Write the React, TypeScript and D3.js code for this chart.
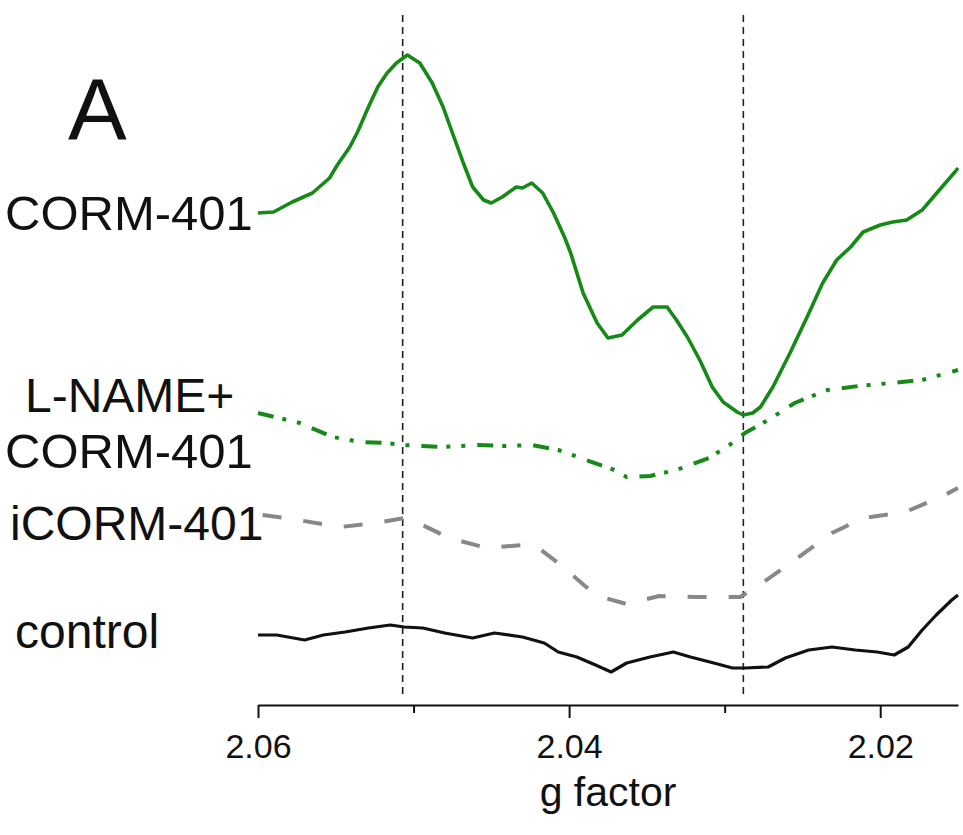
import React, { useEffect, useRef } from "react";
import * as d3 from "d3";

// g factor positions (x) and signal in arbitrary units (y)
const gCorm = [2.06, 2.059, 2.0584, 2.0578, 2.0565, 2.0554, 2.0549, 2.0541, 2.0536, 2.0529, 2.0523, 2.0517, 2.0511, 2.0504, 2.0496, 2.0488, 2.0481, 2.0475, 2.0468, 2.0462, 2.0455, 2.045, 2.0443, 2.0434, 2.043, 2.0424, 2.0417, 2.041, 2.0403, 2.0399, 2.0391, 2.0382, 2.0375, 2.0366, 2.0356, 2.0346, 2.0337, 2.0331, 2.0324, 2.0316, 2.0308, 2.0301, 2.0292, 2.0288, 2.0282, 2.0277, 2.0269, 2.0258, 2.0247, 2.0237, 2.0228, 2.0219, 2.0211, 2.02, 2.0192, 2.0183, 2.0173, 2.0162, 2.0152, 2.015];
const corm = [49.2, 49.3, 49.8, 50.3, 51.2, 52.7, 54.0, 55.8, 57.3, 59.8, 61.8, 63.2, 64.2, 65.0, 64.2, 62.2, 59.8, 57.2, 54.2, 51.8, 50.5, 50.2, 50.8, 51.8, 51.7, 52.2, 51.2, 49.2, 46.8, 45.2, 41.2, 38.2, 36.7, 37.0, 38.5, 39.8, 39.8, 38.5, 36.8, 34.5, 31.8, 30.3, 29.3, 29.0, 29.2, 29.8, 31.8, 35.2, 38.8, 42.2, 44.5, 45.8, 47.3, 48.0, 48.3, 48.5, 49.5, 51.5, 53.3, 53.7];

const gLname = [2.06, 2.0573, 2.0552, 2.0534, 2.0518, 2.0507, 2.0482, 2.0459, 2.0441, 2.0424, 2.0407, 2.0389, 2.0371, 2.0363, 2.0348, 2.0331, 2.031, 2.0295, 2.0287, 2.0272, 2.0255, 2.0234, 2.0214, 2.0193, 2.0173, 2.015];
const lname = [29.2, 28.2, 26.8, 26.3, 26.2, 26.0, 25.8, 26.0, 25.9, 26.0, 25.5, 24.5, 23.5, 22.8, 22.9, 23.5, 24.7, 26.2, 27.2, 28.5, 30.2, 31.5, 31.9, 32.2, 32.5, 33.5];

const gIcorm = [2.0597, 2.0582, 2.0547, 2.0524, 2.0506, 2.0497, 2.0477, 2.0453, 2.043, 2.0418, 2.0407, 2.0389, 2.0377, 2.0363, 2.0342, 2.0319, 2.029, 2.0275, 2.0255, 2.0231, 2.0211, 2.0184, 2.0161, 2.015];
const icorm = [19.0, 18.7, 17.8, 18.2, 18.7, 18.2, 16.7, 15.7, 16.0, 15.5, 14.2, 11.8, 10.7, 10.1, 10.9, 10.8, 10.8, 12.3, 14.5, 17.2, 18.7, 19.3, 20.8, 21.7];

const gControl = [2.06, 2.0588, 2.057, 2.0558, 2.0544, 2.0529, 2.0515, 2.0506, 2.0494, 2.048, 2.0462, 2.0448, 2.043, 2.0416, 2.0407, 2.0395, 2.0383, 2.0373, 2.0363, 2.0348, 2.0333, 2.0322, 2.0307, 2.0295, 2.0287, 2.0272, 2.0261, 2.0246, 2.0231, 2.0216, 2.0202, 2.0191, 2.0182, 2.0173, 2.0164, 2.0154, 2.015];
const control = [7.0, 7.0, 6.5, 7.0, 7.3, 7.7, 8.0, 7.8, 7.7, 7.2, 6.7, 7.2, 6.8, 6.2, 5.3, 4.8, 4.0, 3.3, 4.2, 4.8, 5.3, 4.8, 4.2, 3.7, 3.7, 3.8, 4.7, 5.5, 5.8, 5.5, 5.3, 5.0, 5.8, 7.5, 9.0, 10.5, 11.0];

const majorTicks = [2.06, 2.04, 2.02];
const minorTicks = [2.05, 2.03];
const markerLines = [2.0507, 2.0288];

const FONT = "'Liberation Sans', Arial, Helvetica, sans-serif";

const App = () => {
  const ref = useRef<SVGSVGElement>(null);

  useEffect(() => {
    const svg = d3.select(ref.current);
    svg.selectAll("*").remove();

    const x = d3.scaleLinear().domain([2.06, 2.015]).range([258, 958]);
    const y = d3.scaleLinear().domain([0, 69]).range([705, 15]);

    const line = d3
      .line<[number, number]>()
      .x(d => x(d[0]))
      .y(d => y(d[1]));

    // dashed marker lines
    svg
      .selectAll(".marker")
      .data(markerLines)
      .enter()
      .append("line")
      .attr("x1", d => x(d))
      .attr("x2", d => x(d))
      .attr("y1", y(69))
      .attr("y2", y(1))
      .attr("stroke", "#222")
      .attr("stroke-width", 1.6)
      .attr("stroke-dasharray", "7,5");

    const traces = [
      { g: gControl, v: control, color: "#111", width: 3.2, dash: null },
      { g: gIcorm, v: icorm, color: "#888", width: 4, dash: "19,22" },
      { g: gLname, v: lname, color: "#158a17", width: 4, dash: "16,9,4,11,4,12" },
      { g: gCorm, v: corm, color: "#158a17", width: 3.6, dash: null }
    ];

    traces.forEach(t => {
      const pts = t.g.map((g, i) => [g, t.v[i]] as [number, number]);
      svg
        .append("path")
        .attr("d", line(pts))
        .attr("fill", "none")
        .attr("stroke", t.color)
        .attr("stroke-width", t.width)
        .attr("stroke-linejoin", "round")
        .attr("stroke-dasharray", t.dash);
    });

    // axis
    const axis = svg
      .append("g")
      .attr("transform", `translate(0,${y(0)})`)
      .call(
        d3
          .axisBottom(x)
          .tickValues(majorTicks)
          .tickFormat(d3.format(".2f"))
          .tickSize(13)
          .tickSizeOuter(0)
          .tickPadding(16)
      );
    axis.select(".domain").attr("stroke", "#111").attr("stroke-width", 2);
    axis.selectAll(".tick line").attr("stroke", "#111").attr("stroke-width", 2);
    axis
      .selectAll(".tick text")
      .attr("fill", "#111")
      .style("font-size", "34px")
      .style("font-family", FONT);

    const minor = svg
      .append("g")
      .attr("transform", `translate(0,${y(0)})`)
      .call(d3.axisBottom(x).tickValues(minorTicks).tickFormat(() => "").tickSize(8));
    minor.select(".domain").remove();
    minor.selectAll(".tick line").attr("stroke", "#111").attr("stroke-width", 2);

    svg
      .append("text")
      .attr("x", (x(2.06) + x(2.015)) / 2)
      .attr("y", 806)
      .attr("text-anchor", "middle")
      .style("font-size", "41px")
      .style("font-family", FONT)
      .attr("fill", "#111")
      .text("g factor");

    // panel letter and trace labels
    const labels = [
      { t: "A", x: 68, y: 140, s: 88 },
      { t: "CORM-401", x: 5, y: 230, s: 49 },
      { t: "L-NAME+", x: 25, y: 412, s: 48 },
      { t: "CORM-401", x: 5, y: 468, s: 49 },
      { t: "iCORM-401", x: 10, y: 540, s: 48 },
      { t: "control", x: 15, y: 648, s: 48 }
    ];
    svg
      .selectAll(".lbl")
      .data(labels)
      .enter()
      .append("text")
      .attr("x", d => d.x)
      .attr("y", d => d.y)
      .style("font-size", d => d.s + "px")
      .style("font-family", FONT)
      .attr("fill", "#111")
      .text(d => d.t);
  }, []);

  return (
    <svg
      ref={ref}
      width={963}
      height={835}
      style={{ position: "absolute", left: 0, top: 0, background: "#fff" }}
    />
  );
};

export default App;
